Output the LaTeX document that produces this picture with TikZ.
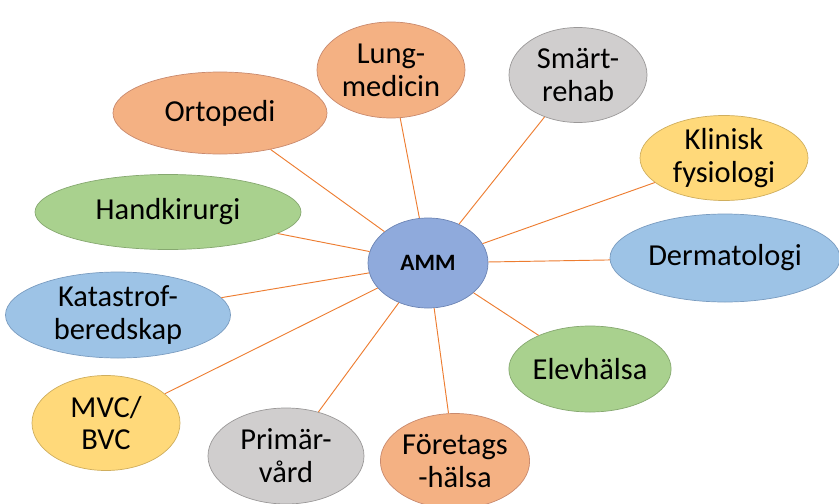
\documentclass[tikz,border=0pt]{standalone}
\usepackage{fontspec}
\setmainfont{Carlito}
\usetikzlibrary{shapes.geometric}
\definecolor{salmon}{HTML}{F4B183}
\definecolor{salmonline}{HTML}{C98A6E}
\definecolor{leaf}{HTML}{A9D18E}
\definecolor{leafline}{HTML}{86A870}
\definecolor{sky}{HTML}{9DC3E6}
\definecolor{skyline}{HTML}{7A9CC0}
\definecolor{stone}{HTML}{D0CECE}
\definecolor{stoneline}{HTML}{9A9898}
\definecolor{sun}{HTML}{FFD97A}
\definecolor{sunline}{HTML}{CFAE5E}
\definecolor{hub}{HTML}{8FAADC}
\definecolor{hubline}{HTML}{6C84B4}
\definecolor{link}{HTML}{ED7D31}
\begin{document}
\begin{tikzpicture}[x=0.03cm, y=-0.03cm,
    bubble/.style={ellipse, draw, line width=0.6pt, inner sep=0pt, align=center,
      font=\fontsize{26}{28}\selectfont},
    orange/.style={bubble, fill=salmon, draw=salmonline},
    green/.style={bubble, fill=leaf, draw=leafline},
    blue/.style={bubble, fill=sky, draw=skyline},
    grey/.style={bubble, fill=stone, draw=stoneline},
    yellow/.style={bubble, fill=sun, draw=sunline},
    spoke/.style={draw=link, line width=0.8pt}]
    \useasboundingbox (0,0) rectangle (839,504);
    \node [bubble, fill=hub, draw=hubline, minimum width=3.6cm, minimum height=2.7cm,
      font=\fontsize{20}{22}\selectfont\bfseries] (amm) at (428,263) {AMM};
    \node [orange, minimum width=4.44cm, minimum height=2.88cm] (lung) at (391,70) {Lung-\\medicin};
    \node [grey, minimum width=4.14cm, minimum height=2.85cm] (smart) at (578,75) {Smärt-\\rehab};
    \node [orange, minimum width=6.42cm, minimum height=2.46cm] (orto) at (220,113) {Ortopedi};
    \node [yellow, minimum width=5.04cm, minimum height=2.55cm] (klin) at (724,158) {Klinisk\\fysiologi};
    \node [green, minimum width=7.98cm, minimum height=2.25cm] (hand) at (168,212) {Handkirurgi};
    \node [blue, minimum width=6.9cm, minimum height=2.64cm] (derm) at (725,258) {Dermatologi};
    \node [blue, minimum width=6.75cm, minimum height=2.58cm] (kata) at (118,315) {Katastrof-\\beredskap};
    \node [green, minimum width=4.86cm, minimum height=2.58cm] (elev) at (590,369) {Elevhälsa};
    \node [yellow, minimum width=4.44cm, minimum height=2.85cm] (mvc) at (106,423) {MVC/\\BVC};
    \node [grey, minimum width=4.68cm, minimum height=2.88cm] (prim) at (286,456) {Primär-\\vård};
    \node [orange, minimum width=4.2cm, minimum height=2.85cm] (fore) at (455,461) {Företags\\-hälsa};
    \foreach \n in {lung, smart, orto, klin, hand, derm, kata, elev, mvc, prim, fore}
      \path [spoke] (amm) -- (\n);
\end{tikzpicture}
\end{document}
